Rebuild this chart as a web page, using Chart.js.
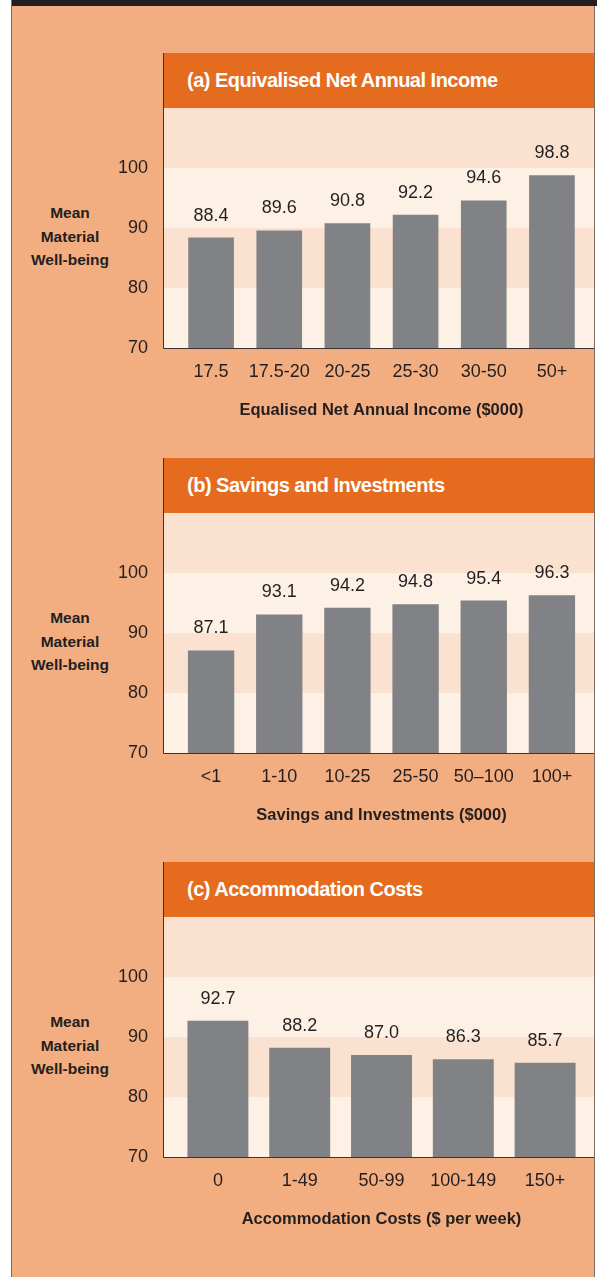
<!DOCTYPE html>
<html>
<head>
<meta charset="utf-8">
<script src="https://cdn.jsdelivr.net/npm/chart.js@4.4.1/dist/chart.umd.min.js"></script>
<style>
  body { margin: 0; background: #fff; width: 597px; height: 1277px; overflow: hidden; position: relative; font-family: "Liberation Sans", Arial, sans-serif; }
  .page { position: absolute; left: 11px; top: 0; width: 584px; height: 1277px; background: #F2AE80; border-left: 1px solid #7d6c62; border-right: 1px solid #7d6c62; box-sizing: border-box; }
  .topbar { position: absolute; left: 12px; top: 0; width: 585px; height: 6px; background: #231F20; }
  .head { position: absolute; left: 163px; width: 431px; height: 55px; background: #E56B1F; border-left: 1px solid #3a3436; box-sizing: border-box;
          color: #fff; font: bold 20px "Liberation Sans", Arial, sans-serif; letter-spacing: -0.5px; display: flex; align-items: center; padding-left: 23px; }
  .ylab { position: absolute; left: 20px; width: 100px; text-align: center; font: bold 15.5px "Liberation Sans", Arial, sans-serif; line-height: 23.5px; color: #231F20; }
  canvas { position: absolute; left: 0; }
</style>
</head>
<body>
<div class="page"></div>
<div class="topbar"></div>
<div id="panels"></div>
<script>
// values
const incomeLabels = ['17.5', '17.5-20', '20-25', '25-30', '30-50', '50+'];
const incomeValues = [88.4, 89.6, 90.8, 92.2, 94.6, 98.8];

const savingsLabels = ['<1', '1-10', '10-25', '25-50', '50\u2013100', '100+'];
const savingsValues = [87.1, 93.1, 94.2, 94.8, 95.4, 96.3];

const accomLabels = ['0', '1-49', '50-99', '100-149', '150+'];
const accomValues = [92.7, 88.2, 87.0, 86.3, 85.7];

const yTicks = [70, 80, 90, 100];
const yLabel = ['Mean', 'Material', 'Well-being'];

const titles = ['(a) Equivalised Net Annual Income', '(b) Savings and Investments', '(c) Accommodation Costs'];
const xTitles = ['Equalised Net Annual Income ($000)', 'Savings and Investments ($000)', 'Accommodation Costs ($ per week)'];

const panels = [
    { labels: incomeLabels, values: incomeValues, axisY: 348, barPct: 0.67 },
    { labels: savingsLabels, values: savingsValues, axisY: 753, barPct: 0.68 },
    { labels: accomLabels, values: accomValues, axisY: 1157, barPct: 0.745 },
];

const DARK = '#231F20';
const BAR = '#808285';
const CREAM = '#FDF1E6';
const PEACH = '#FBE2D0';
const FONT = '"Liberation Sans", Arial, sans-serif';

// background bands + axis lines, wider than the chart area
const bandsPlugin = {
    id: 'bands',
    beforeDatasetsDraw(chart) {
        const ctx = chart.ctx;
        const y = chart.scales.y;
        const x0 = 163, x1 = 594;
        const bands = [[70, 80, CREAM], [80, 90, PEACH], [90, 100, CREAM], [100, 110, PEACH]];
        ctx.save();
        bands.forEach(b => {
            const top = y.getPixelForValue(b[1]);
            const bot = y.getPixelForValue(b[0]);
            ctx.fillStyle = b[2];
            ctx.fillRect(x0, top, x1 - x0, bot - top);
        });
        ctx.restore();
    },
    afterDatasetsDraw(chart) {
        const ctx = chart.ctx;
        const y = chart.scales.y;
        const bottom = Math.round(y.getPixelForValue(70)) + 0.5;
        ctx.save();
        ctx.strokeStyle = '#3a3436';
        ctx.lineWidth = 1;
        ctx.beginPath();
        ctx.moveTo(163.5, y.getPixelForValue(110));
        ctx.lineTo(163.5, bottom);
        ctx.lineTo(594, bottom);
        ctx.stroke();
        // value labels above bars
        ctx.fillStyle = DARK;
        ctx.font = '18px ' + FONT;
        ctx.textAlign = 'center';
        ctx.textBaseline = 'middle';
        const meta = chart.getDatasetMeta(0);
        meta.data.forEach((bar, i) => {
            const v = chart.data.datasets[0].data[i];
            ctx.fillText(v.toFixed(1), bar.x, bar.y - 22);
        });
        ctx.restore();
    }
};

const holder = document.getElementById('panels');

panels.forEach((p, i) => {
    const head = document.createElement('div');
    head.className = 'head';
    head.style.top = (p.axisY - 295) + 'px';
    head.textContent = titles[i];
    holder.appendChild(head);

    const yl = document.createElement('div');
    yl.className = 'ylab';
    yl.style.top = (p.axisY - 112 - 35) + 'px';
    yl.innerHTML = yLabel.join('<br>');
    holder.appendChild(yl);

    const cv = document.createElement('canvas');
    cv.width = 597;
    cv.height = 320;
    cv.style.top = (p.axisY - 240) + 'px';
    holder.appendChild(cv);

    new Chart(cv.getContext('2d'), {
        type: 'bar',
        data: {
            labels: p.labels,
            datasets: [{
                data: p.values,
                backgroundColor: BAR,
                borderWidth: 0,
                barPercentage: p.barPct,
                categoryPercentage: 1
            }]
        },
        options: {
            responsive: false,
            animation: false,
            layout: { padding: { left: 0, right: 11, top: 0, bottom: 0 } },
            plugins: { legend: { display: false }, tooltip: { enabled: false } },
            scales: {
                x: {
                    grid: { display: false, drawTicks: false },
                    border: { display: false },
                    ticks: { color: DARK, font: { size: 18, family: FONT }, padding: 13, maxRotation: 0, autoSkip: false },
                    title: { display: true, text: xTitles[i], color: DARK, font: { size: 16.5, weight: 'bold', family: FONT }, padding: { top: 0, bottom: 8 } },
                    afterFit(scale) {
                        scale.height = 80;
                        scale.paddingLeft = 0;
                        scale.paddingRight = 0;
                    }
                },
                y: {
                    min: 70,
                    max: 110,
                    grid: { display: false, drawTicks: false },
                    border: { display: false },
                    afterBuildTicks(scale) { scale.ticks = yTicks.map(v => ({ value: v })); },
                    ticks: { color: DARK, font: { size: 18, family: FONT }, padding: 29 },
                    afterFit(scale) {
                        scale.width = 177;
                        scale.paddingTop = 0;
                        scale.paddingBottom = 0;
                    }
                }
            }
        },
        plugins: [bandsPlugin]
    });
});
</script>
</body>
</html>
